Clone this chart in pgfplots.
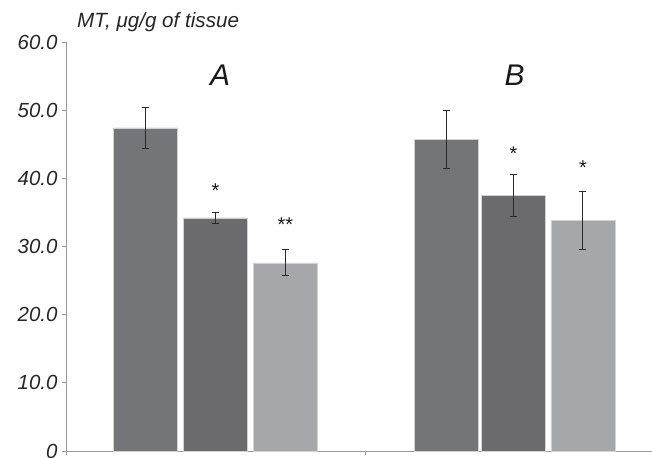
\documentclass[border=0pt]{standalone}
\usepackage{fontspec}
\setmainfont{Liberation Sans}
\usepackage{pgfplots}
\pgfplotsset{compat=1.18}
\definecolor{barA}{HTML}{747579}
\definecolor{barB}{HTML}{6B6B6E}
\definecolor{barC}{HTML}{A6A7AA}
\definecolor{axisgray}{HTML}{999999}
\definecolor{errc}{HTML}{2A2A2A}
\begin{document}
\begin{tikzpicture}
\path[use as bounding box] (0,0) rectangle (652bp,458bp);
\node[anchor=west, font=\fontsize{20.7}{24}\selectfont\itshape, text=black!85, inner sep=0pt] at (77bp,436bp) {MT, μg/g of tissue};
\begin{axis}[
  at={(66bp,7bp)}, anchor=south west,
  scale only axis, width=598bp, height=409bp,
  xmin=0, xmax=2, ymin=0, ymax=60,
  axis x line=bottom, axis y line=left,
  axis line style={draw=axisgray, line width=0.8pt, -},
  xtick={0,1,2}, xticklabels={},
  ytick={0,10,20,30,40,50,60},
  yticklabels={0,10.0,20.0,30.0,40.0,50.0,60.0},
  tick style={draw=axisgray, line width=0.8pt},
  tick align=outside, major tick length=4bp,
  yticklabel style={font=\fontsize{20.5}{23}\selectfont\itshape, text=black!85, xshift=-1bp},
  ybar, bar width=0.214, bar shift=0,
  clip=false,
  error bars/error bar style={line width=1pt, draw=errc},
  error bars/error mark options={rotate=90, mark size=3.5bp, line width=1pt, draw=errc},
]
\addplot[fill=barA, draw=gray!35, line width=0.6pt,
  error bars/.cd, y dir=both, y explicit]
  coordinates {(0.266,47.4) +- (0,3.0) (1.271,45.7) +- (0,4.2)};
\addplot[fill=barB, draw=gray!35, line width=0.6pt,
  error bars/.cd, y dir=both, y explicit]
  coordinates {(0.5,34.2) +- (0,0.85) (1.497,37.5) +- (0,3.1)};
\addplot[fill=barC, draw=gray!35, line width=0.6pt,
  error bars/.cd, y dir=both, y explicit]
  coordinates {(0.734,27.6) +- (0,1.9) (1.729,33.8) +- (0,4.3)};
\node[font=\fontsize{20}{22}\selectfont, text=black!90] at (axis cs:0.5,38.2) {*};
\node[font=\fontsize{20}{22}\selectfont, text=black!90] at (axis cs:0.734,33.2) {**};
\node[font=\fontsize{20}{22}\selectfont, text=black!90] at (axis cs:1.497,43.6) {*};
\node[font=\fontsize{20}{22}\selectfont, text=black!90] at (axis cs:1.729,41.6) {*};
\node[font=\fontsize{30}{33}\selectfont\itshape, text=black!90] at (axis cs:0.515,55.1) {A};
\node[font=\fontsize{30}{33}\selectfont\itshape, text=black!90] at (axis cs:1.5,55.1) {B};
\end{axis}
\end{tikzpicture}
\end{document}
